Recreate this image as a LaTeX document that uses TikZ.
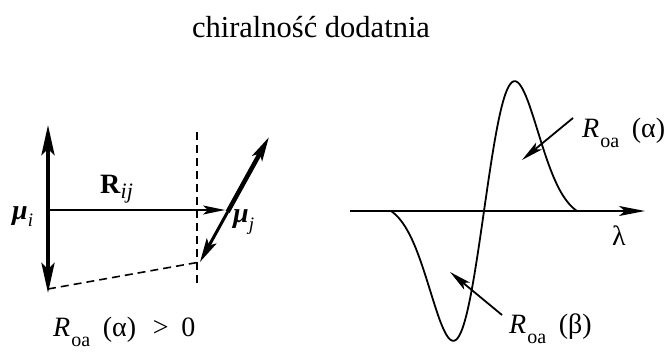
\documentclass[tikz,border=0pt]{standalone}
\usepackage{fontspec}
\setmainfont{Liberation Serif}
\usetikzlibrary{arrows.meta}
\newcommand{\Roa}[1]{\textit{R}\kern1pt\raisebox{-0.38em}{\fontsize{20}{20}\selectfont oa}\hspace{0.45em}(#1)}
\tikzset{
  lbl/.style={inner sep=0pt, anchor=base west, font=\fontsize{28}{32}\selectfont},
  thinline/.style={line width=1.8pt},
  dashline/.style={line width=1.6pt, dash pattern=on 8pt off 5pt},
  midtip/.style={-{Stealth[length=24pt,width=11pt,inset=5pt]}},
  smalltip/.style={-{Stealth[length=22pt,width=9pt,inset=5pt]}},
}
\begin{document}
\begin{tikzpicture}[x=1pt,y=-1pt]
\useasboundingbox (0,0) rectangle (670,356);
% title
\node[inner sep=0pt, anchor=base, font=\fontsize{30.5}{36}\selectfont] (title) at (311,37) {chiralność dodatnia};
% left figure
\coordinate (mui-top) at (48,125);
\coordinate (mui-bot) at (48,293);
\coordinate (mui-mid) at (48,210);
\coordinate (mui-low) at (48,289);
\coordinate (rij-tip) at (225,210);
\coordinate (muj-top) at (269,137);
\coordinate (muj-mid) at (227.6,212);
\coordinate (muj-bot) at (200,262);
\coordinate (dv-top) at (197,132);
\coordinate (dv-bot) at (197,283);
\draw[dashline] (dv-top) -- (dv-bot);
\draw[dashline] (mui-low) -- (muj-bot);
\draw[line width=4pt, {Stealth[length=30pt,width=13pt,inset=6pt]}-{Stealth[length=30pt,width=13pt,inset=6pt]}] (mui-top) -- (mui-bot);
\draw[thinline, smalltip] (mui-mid) -- (rij-tip);
\draw[line width=4.5pt, midtip] (muj-mid) -- (muj-top);
\draw[line width=3pt, midtip] (muj-mid) -- (muj-bot);
\node[lbl] (rij) at (100,193) {\textbf{R}\raisebox{-0.18em}{\fontsize{22}{22}\selectfont\textit{ij}}};
\node[lbl] (mui) at (12,219) {\textbf{\textit{μ}}\raisebox{-0.25em}{\fontsize{19}{19}\selectfont\textit{i}}};
\node[lbl] (muj) at (233,222) {\textbf{\textit{μ}}\raisebox{-0.3em}{\fontsize{19}{19}\selectfont\textit{j}}};
\node[lbl] (roa0) at (53,336) {\Roa{α}\hspace{0.6em}>\hspace{0.45em}0};
% right figure
\coordinate (ax-start) at (350,211);
\coordinate (ax-end) at (645,211);
\draw[thinline, -{Stealth[length=26pt,width=10pt,inset=6pt]}] (ax-start) -- (ax-end);
\node[inner sep=0pt, anchor=base, font=\fontsize{28}{32}\selectfont] (lam) at (619,245) {λ};
\draw[thinline, line join=round] plot[domain=-3:3, samples=121, smooth] ({484+31*\x}, {211-218*(\x*exp(-\x*\x/2)-0.0111*\x)});
\coordinate (a-from) at (573,118);
\coordinate (a-to) at (522,160);
\coordinate (b-from) at (502,315);
\coordinate (b-to) at (450,272);
\draw[thinline, smalltip] (a-from) -- (a-to);
\draw[thinline, smalltip] (b-from) -- (b-to);
\node[lbl] (ra) at (582,137) {\Roa{α}};
\node[lbl] (rb) at (509,333) {\Roa{β}};
\end{tikzpicture}
\end{document}
